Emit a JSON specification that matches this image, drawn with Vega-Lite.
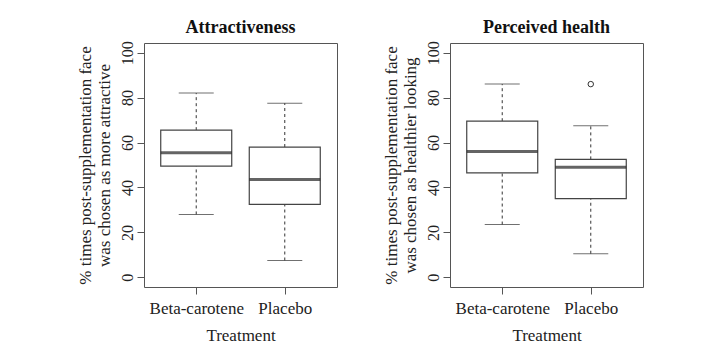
{
  "$schema": "https://vega.github.io/schema/vega-lite/v6.json",
  "background": "white",
  "padding": {"left": 75, "top": 18, "right": 5, "bottom": 5},
  "datasets": {
    "boxes": [
      {"panel": "Attractiveness", "treatment": "Beta-carotene", "lower": 28, "q1": 49.5, "median": 55.5, "q3": 65.5, "upper": 82},
      {"panel": "Attractiveness", "treatment": "Placebo", "lower": 7.5, "q1": 32.5, "median": 43.5, "q3": 58, "upper": 77.5},
      {"panel": "Perceived health", "treatment": "Beta-carotene", "lower": 23.5, "q1": 46.5, "median": 56, "q3": 69.5, "upper": 86},
      {"panel": "Perceived health", "treatment": "Placebo", "lower": 10.5, "q1": 35, "median": 49, "q3": 52.5, "upper": 67.5}
    ],
    "outliers": [
      {"panel": "Perceived health", "treatment": "Placebo", "value": 86}
    ]
  },
  "config": {
    "font": "Liberation Serif",
    "view": {"stroke": "#555", "strokeWidth": 1},
    "axis": {"grid": false, "labelFont": "Liberation Serif", "titleFont": "Liberation Serif", "labelFontSize": 16, "titleFontSize": 17, "labelColor": "#222", "titleColor": "#222", "titleFontWeight": "normal", "tickColor": "#555", "tickSize": 7, "domain": false},
    "title": {"font": "Liberation Serif", "fontSize": 18, "fontWeight": "bold", "color": "#111"}
  },
  "spacing": 43,
  "hconcat": [
    {
      "title": "Attractiveness",
      "width": 193,
      "height": 244,
      "data": {"name": "boxes"},
      "transform": [{"filter": "datum.panel === 'Attractiveness'"}],
      "encoding": {
        "x": {"field": "treatment", "type": "nominal", "scale": {"type": "point", "padding": 0.59, "domain": ["Beta-carotene", "Placebo"]}, "axis": {"title": "Treatment", "labelAngle": 0, "labelPadding": 6, "labelFontSize": 17, "titlePadding": 11}}
      },
      "layer": [
        {"mark": {"type": "rule", "strokeDash": [3, 3], "color": "#333"}, "encoding": {"y": {"field": "lower", "type": "quantitative", "scale": {"domain": [-4.3, 104.3], "nice": false, "zero": false}, "axis": {"title": ["% times post-supplementation face", "was chosen as more attractive"], "values": [0, 20, 40, 60, 80, 100], "labelAngle": -90, "labelAlign": "center", "labelBaseline": "bottom", "labelPadding": 2, "titlePadding": 6}}, "y2": {"field": "q1"}}},
        {"mark": {"type": "rule", "strokeDash": [3, 3], "color": "#333"}, "encoding": {"y": {"field": "q3", "type": "quantitative"}, "y2": {"field": "upper"}}},
        {"mark": {"type": "tick", "size": 35, "thickness": 1, "color": "#333"}, "encoding": {"y": {"field": "lower", "type": "quantitative"}}},
        {"mark": {"type": "tick", "size": 35, "thickness": 1, "color": "#333"}, "encoding": {"y": {"field": "upper", "type": "quantitative"}}},
        {"mark": {"type": "bar", "width": 71, "fill": "white", "stroke": "#444", "strokeWidth": 1.2}, "encoding": {"y": {"field": "q1", "type": "quantitative"}, "y2": {"field": "q3"}}},
        {"mark": {"type": "tick", "size": 71, "thickness": 3, "color": "#222"}, "encoding": {"y": {"field": "median", "type": "quantitative"}}}
      ]
    },
    {
      "title": "Perceived health",
      "width": 193,
      "height": 244,
      "layer": [
        {
          "data": {"name": "boxes"},
          "transform": [{"filter": "datum.panel === 'Perceived health'"}],
          "encoding": {
            "x": {"field": "treatment", "type": "nominal", "scale": {"type": "point", "padding": 0.59, "domain": ["Beta-carotene", "Placebo"]}, "axis": {"title": "Treatment", "labelAngle": 0, "labelPadding": 6, "labelFontSize": 17, "titlePadding": 11}}
          },
          "layer": [
            {"mark": {"type": "rule", "strokeDash": [3, 3], "color": "#333"}, "encoding": {"y": {"field": "lower", "type": "quantitative", "scale": {"domain": [-4.3, 104.3], "nice": false, "zero": false}, "axis": {"title": ["% times post-supplementation face", "was chosen as healthier looking"], "values": [0, 20, 40, 60, 80, 100], "labelAngle": -90, "labelAlign": "center", "labelBaseline": "bottom", "labelPadding": 2, "titlePadding": 6}}, "y2": {"field": "q1"}}},
            {"mark": {"type": "rule", "strokeDash": [3, 3], "color": "#333"}, "encoding": {"y": {"field": "q3", "type": "quantitative"}, "y2": {"field": "upper"}}},
            {"mark": {"type": "tick", "size": 35, "thickness": 1, "color": "#333"}, "encoding": {"y": {"field": "lower", "type": "quantitative"}}},
            {"mark": {"type": "tick", "size": 35, "thickness": 1, "color": "#333"}, "encoding": {"y": {"field": "upper", "type": "quantitative"}}},
            {"mark": {"type": "bar", "width": 71, "fill": "white", "stroke": "#444", "strokeWidth": 1.2}, "encoding": {"y": {"field": "q1", "type": "quantitative"}, "y2": {"field": "q3"}}},
            {"mark": {"type": "tick", "size": 71, "thickness": 3, "color": "#222"}, "encoding": {"y": {"field": "median", "type": "quantitative"}}}
          ]
        },
        {
          "data": {"name": "outliers"},
          "mark": {"type": "point", "shape": "circle", "filled": false, "size": 30, "color": "#333", "strokeWidth": 1, "opacity": 1},
          "encoding": {
            "x": {"field": "treatment", "type": "nominal"},
            "y": {"field": "value", "type": "quantitative"}
          }
        }
      ]
    }
  ]
}
